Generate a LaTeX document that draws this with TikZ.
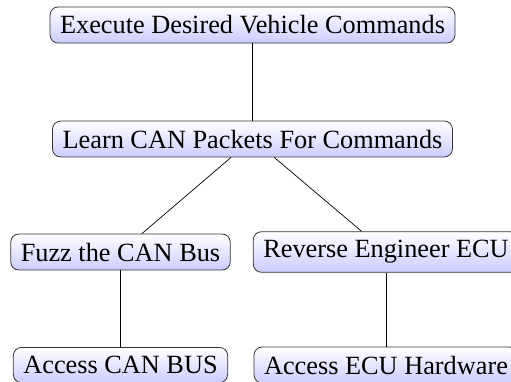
\documentclass[tikz,border=0pt]{standalone}
\usepackage{fontspec}
\setmainfont{Liberation Serif}
\begin{document}
\begin{tikzpicture}[x=1pt,y=-1pt,
  box/.style={draw=black!80, line width=0.8pt, rounded corners=8pt,
    top color=white, bottom color=blue!20, inner xsep=10pt, inner ysep=8.7pt,
    font=\fontsize{26.3}{31}\selectfont},
  link/.style={draw=black, line width=0.7pt}]
\useasboundingbox (0,0) rectangle (511,381);
\clip (0,0) rectangle (511,381);
\node[box] (a) at (252.5,25) {Execute Desired Vehicle Commands};
\node[box] (b) at (252.5,139) {Learn CAN Packets For Commands};
\node[box] (c) at (120.5,252) {Fuzz the CAN Bus};
\node[box] (d) at (386,252) {Reverse Engineer ECU};
\node[box] (e) at (120.5,365) {Access CAN BUS};
\node[box] (f) at (386,365) {Access ECU Hardware};
\draw[link] (a) -- (b);
\draw[link] (b) -- (c);
\draw[link] (b) -- (d);
\draw[link] (c) -- (e);
\draw[link] (d) -- (f);
\end{tikzpicture}
\end{document}
